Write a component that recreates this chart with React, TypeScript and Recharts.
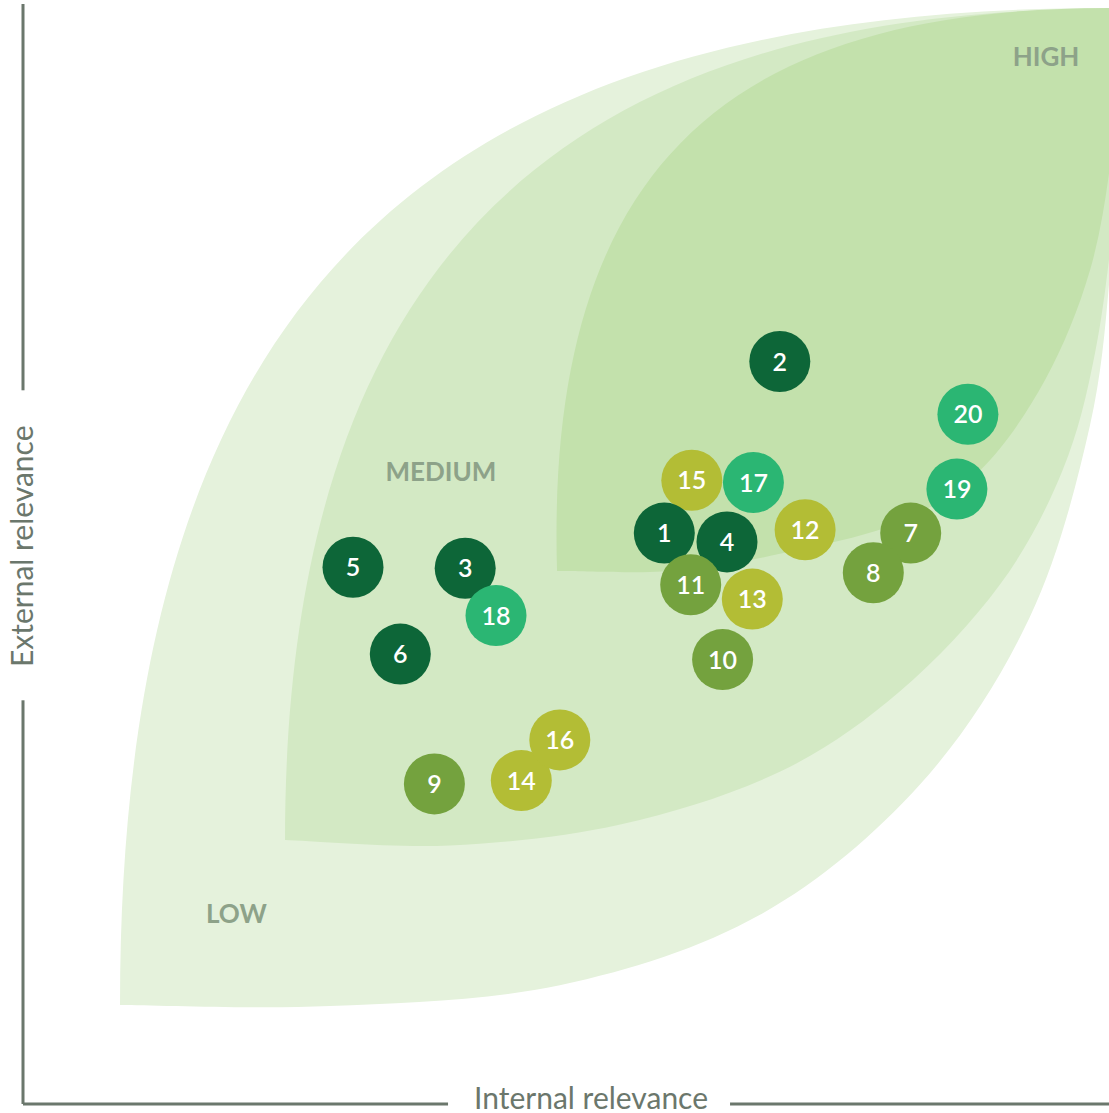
import React from "react";
import {
  ScatterChart,
  Scatter,
  XAxis,
  YAxis,
  ReferenceArea,
  ReferenceDot,
} from "recharts";

type Pt = [number, number];

// topics, grouped by colour (x = internal, y = external relevance, 0-100)
const PILLAR_A = [
  { id: 1, x: 58.3, y: 51.9 },
  { id: 2, x: 68.8, y: 67.5 },
  { id: 3, x: 40.2, y: 48.7 },
  { id: 4, x: 64.0, y: 51.1 },
  { id: 5, x: 30.0, y: 48.8 },
  { id: 6, x: 34.3, y: 40.9 },
];
const PILLAR_B = [
  { id: 7, x: 80.7, y: 51.9 },
  { id: 8, x: 77.3, y: 48.3 },
  { id: 9, x: 37.4, y: 29.1 },
  { id: 10, x: 63.6, y: 40.4 },
  { id: 11, x: 60.7, y: 47.2 },
];
const PILLAR_C = [
  { id: 12, x: 71.1, y: 52.2 },
  { id: 13, x: 66.3, y: 45.9 },
  { id: 14, x: 45.3, y: 29.4 },
  { id: 15, x: 60.8, y: 56.7 },
  { id: 16, x: 48.8, y: 33.1 },
];
const PILLAR_D = [
  { id: 17, x: 66.4, y: 56.5 },
  { id: 18, x: 43.0, y: 44.4 },
  { id: 19, x: 84.9, y: 55.9 },
  { id: 20, x: 85.9, y: 62.7 },
];

const ZONES = [
  { name: "HIGH", x: 93.0, y: 95.2 },
  { name: "MEDIUM", x: 38.0, y: 57.5 },
  { name: "LOW", x: 19.4, y: 17.3 },
];

// leaf outlines, in chart units: upper edge is one cubic (tip, c1, c2, tip),
// lower edge is a smooth run of points from the low tip outwards
const OUTER_TOP: Pt[] = [[8.82, 9.0], [8.82, 72.45], [35.82, 99.64], [98.73, 99.64]];
const OUTER_BOTTOM: Pt[] = [
  [8.82, 9.0], [27.9, 8.9], [48.8, 10.8], [67.0, 17.2], [81.5, 29.0],
  [91.5, 44.2], [97.0, 61.7], [99.0, 77.6], [100.2, 95.8],
];
const MIDDLE_TOP: Pt[] = [[23.82, 24.0], [23.82, 75.36], [47.82, 99.55], [98.73, 99.55]];
const MIDDLE_BOTTOM: Pt[] = [
  [23.82, 24.0], [38.8, 23.5], [54.3, 25.4], [68.8, 30.2], [79.7, 37.5],
  [88.8, 47.2], [94.5, 57.6], [97.5, 68.5], [99.3, 82.2], [100.2, 95.8],
];
const INNER_TOP: Pt[] = [[48.55, 48.45], [47.45, 85.8], [64.7, 99.6], [98.73, 99.64]];
const INNER_BOTTOM: Pt[] = [
  [48.55, 48.45], [59.7, 48.5], [70.6, 50.4], [79.7, 52.9], [87.0, 57.6],
  [92.9, 65.8], [97.0, 75.8], [99.0, 86.7], [99.7, 97.6],
];

const FONT = "Lato, 'Open Sans', sans-serif";
const AXIS_COLOR = "#6b776c";

// catmull-rom through the points, as cubic beziers
function smooth(pts: Pt[]): string {
  let d = "";
  for (let i = 0; i < pts.length - 1; i++) {
    const p0 = pts[i - 1] || pts[i];
    const p1 = pts[i];
    const p2 = pts[i + 1];
    const p3 = pts[i + 2] || p2;
    const c1x = p1[0] + (p2[0] - p0[0]) / 6;
    const c1y = p1[1] + (p2[1] - p0[1]) / 6;
    const c2x = p2[0] - (p3[0] - p1[0]) / 6;
    const c2y = p2[1] - (p3[1] - p1[1]) / 6;
    d += ` C${c1x},${c1y} ${c2x},${c2y} ${p2[0]},${p2[1]}`;
  }
  return d;
}

const leaf = (top: Pt[], bottom: Pt[], fill: string) => (props: any) => {
  const { x, y, width, height } = props;
  const toPx = ([dx, dy]: Pt): Pt => [
    x + (dx / 100) * width,
    y + height - (dy / 100) * height,
  ];
  const [a, c1, c2, b] = top.map(toPx);
  const low = bottom.map(toPx).reverse();
  const d =
    `M${a[0]},${a[1]} C${c1[0]},${c1[1]} ${c2[0]},${c2[1]} ${b[0]},${b[1]}` +
    ` L${low[0][0]},${low[0][1]}` +
    smooth(low) +
    " Z";
  return <path d={d} fill={fill} stroke="none" />;
};

const bubble = (color: string) => (props: any) => {
  const { cx, cy, payload } = props;
  return (
    <g>
      <circle cx={cx} cy={cy} r={30.5} fill={color} />
      <text
        x={cx}
        y={cy + 9}
        textAnchor="middle"
        fill="#ffffff"
        fontFamily={FONT}
        fontWeight={600}
        fontSize={25}
      >
        {payload.id}
      </text>
    </g>
  );
};

const XLabel = (props: any) => {
  const { x, width, y } = props.viewBox;
  const cx = x + width * 0.5164;
  return (
    <g>
      <rect x={cx - 143} y={y - 22} width={282} height={32} fill="#ffffff" />
      <text
        x={cx}
        y={y + 5}
        textAnchor="middle"
        fill={AXIS_COLOR}
        fontFamily={FONT}
        fontSize={30}
      >
        Internal relevance
      </text>
    </g>
  );
};

const YLabel = (props: any) => {
  const { x, y, width, height } = props.viewBox;
  const line = x + width;
  const cy = y + height * 0.493;
  const tx = line + 10;
  return (
    <g>
      <rect x={line - 15} y={cy - 156} width={28} height={310} fill="#ffffff" />
      <text
        x={tx}
        y={cy}
        textAnchor="middle"
        fill={AXIS_COLOR}
        fontFamily={FONT}
        fontSize={30}
        transform={`rotate(-90, ${tx}, ${cy})`}
      >
        External relevance
      </text>
    </g>
  );
};

export default function App() {
  return (
    <div
      style={{
        position: "absolute",
        left: 0,
        top: 0,
        width: 1109,
        height: 1113,
        overflow: "hidden",
        background: "#ffffff",
      }}
    >
      <ScatterChart
        width={1123}
        height={1113}
        margin={{ top: 4, right: 0, bottom: 0, left: 0 }}
      >
        <XAxis
          type="number"
          dataKey="x"
          domain={[0, 100]}
          height={9}
          tick={false}
          tickLine={false}
          axisLine={{ stroke: AXIS_COLOR, strokeWidth: 3 }}
          label={XLabel}
        />
        <YAxis
          type="number"
          dataKey="y"
          domain={[0, 100]}
          width={23}
          tick={false}
          tickLine={false}
          axisLine={{ stroke: AXIS_COLOR, strokeWidth: 3 }}
          label={YLabel}
        />
        <ReferenceArea x1={0} x2={100} y1={0} y2={100} ifOverflow="visible"
          shape={leaf(OUTER_TOP, OUTER_BOTTOM, "#e5f2dc")} />
        <ReferenceArea x1={0} x2={100} y1={0} y2={100} ifOverflow="visible"
          shape={leaf(MIDDLE_TOP, MIDDLE_BOTTOM, "#d3e9c4")} />
        <ReferenceArea x1={0} x2={100} y1={0} y2={100} ifOverflow="visible"
          shape={leaf(INNER_TOP, INNER_BOTTOM, "#c3e1ac")} />
        {ZONES.map((z) => (
          <ReferenceDot
            key={z.name}
            x={z.x}
            y={z.y}
            r={0}
            ifOverflow="visible"
            shape={(p: any) => (
              <text
                x={p.cx}
                y={p.cy + 9.5}
                textAnchor="middle"
                fill="#8da289"
                fontFamily={FONT}
                fontWeight={700}
                fontSize={26}
              >
                {z.name}
              </text>
            )}
          />
        ))}
        <Scatter data={PILLAR_C} shape={bubble("#b3bd35")} isAnimationActive={false} />
        <Scatter data={PILLAR_A} shape={bubble("#0d6638")} isAnimationActive={false} />
        <Scatter data={PILLAR_B} shape={bubble("#74a23e")} isAnimationActive={false} />
        <Scatter data={PILLAR_D} shape={bubble("#2bb673")} isAnimationActive={false} />
      </ScatterChart>
    </div>
  );
}
